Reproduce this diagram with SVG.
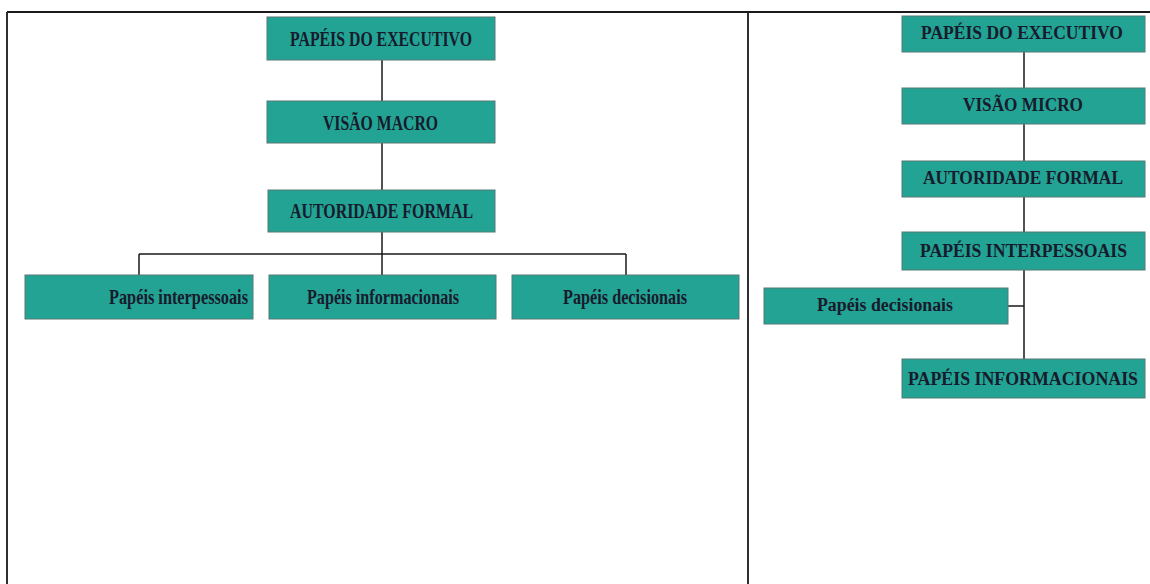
<svg xmlns="http://www.w3.org/2000/svg" width="1150" height="584" viewBox="0 0 1150 584">
<style>
.box{fill:#22a393;stroke:#557a74;stroke-width:1}
.t{font-family:"Liberation Serif","Times New Roman",serif;font-weight:bold;fill:#171b2d}
.l{font-size:21px}
.c{font-size:22px}
.r{font-size:18px}
.ln{stroke:#1a1a1a;stroke-width:1.5;fill:none}
.fr{stroke:#1a1a1a;stroke-width:1.8;fill:none}
</style>
<rect width="1150" height="584" fill="#ffffff"/>
<g id="frame">
<path class="fr" d="M7 12 H1150 M7 12 V584 M748 12 V584"/>
</g>
<g id="connectors">
<path class="ln" d="M382 60 V101 M382 143 V190 M382 232 V254 M139 254 H626 M139 254 V275 M382 254 V275 M626 254 V275"/>
<path class="ln" d="M1024 52 V88 M1024 124 V161 M1024 197 V232 M1024 270 V359 M1008 306 H1024"/>
</g>
<g id="l-executivo"><rect class="box" x="267" y="17" width="228" height="43"/><text class="t l" x="290" y="46" textLength="182" lengthAdjust="spacingAndGlyphs">PAPÉIS DO EXECUTIVO</text></g>
<g id="l-macro"><rect class="box" x="267" y="101" width="228" height="42"/><text class="t l" x="323" y="130" textLength="115" lengthAdjust="spacingAndGlyphs">VISÃO MACRO</text></g>
<g id="l-autoridade"><rect class="box" x="268" y="190" width="227" height="42"/><text class="t l" x="290" y="218" textLength="183" lengthAdjust="spacingAndGlyphs">AUTORIDADE FORMAL</text></g>
<g id="l-interpessoais"><rect class="box" x="25" y="275" width="228" height="44"/><text class="t c" x="109" y="304" textLength="139" lengthAdjust="spacingAndGlyphs">Papéis interpessoais</text></g>
<g id="l-informacionais"><rect class="box" x="269" y="275" width="227" height="44"/><text class="t c" x="307" y="304" textLength="152" lengthAdjust="spacingAndGlyphs">Papéis informacionais</text></g>
<g id="l-decisionais"><rect class="box" x="512" y="275" width="227" height="44"/><text class="t c" x="563" y="304" textLength="124" lengthAdjust="spacingAndGlyphs">Papéis decisionais</text></g>
<g id="r-executivo"><rect class="box" x="902" y="16" width="243" height="36"/><text class="t r" x="921" y="39" textLength="202" lengthAdjust="spacingAndGlyphs">PAPÉIS DO EXECUTIVO</text></g>
<g id="r-micro"><rect class="box" x="902" y="88" width="243" height="36"/><text class="t r" x="963" y="111" textLength="120" lengthAdjust="spacingAndGlyphs">VISÃO MICRO</text></g>
<g id="r-autoridade"><rect class="box" x="902" y="161" width="243" height="36"/><text class="t r" x="923" y="184" textLength="200" lengthAdjust="spacingAndGlyphs">AUTORIDADE FORMAL</text></g>
<g id="r-interpessoais"><rect class="box" x="902" y="232" width="243" height="38"/><text class="t r" x="920" y="257" textLength="207" lengthAdjust="spacingAndGlyphs">PAPÉIS INTERPESSOAIS</text></g>
<g id="r-decisionais"><rect class="box" x="764" y="288" width="244" height="36"/><text class="t r" x="817" y="311" textLength="136" lengthAdjust="spacingAndGlyphs">Papéis decisionais</text></g>
<g id="r-informacionais"><rect class="box" x="902" y="359" width="243" height="39"/><text class="t r" x="908" y="385" textLength="230" lengthAdjust="spacingAndGlyphs">PAPÉIS INFORMACIONAIS</text></g>
</svg>
